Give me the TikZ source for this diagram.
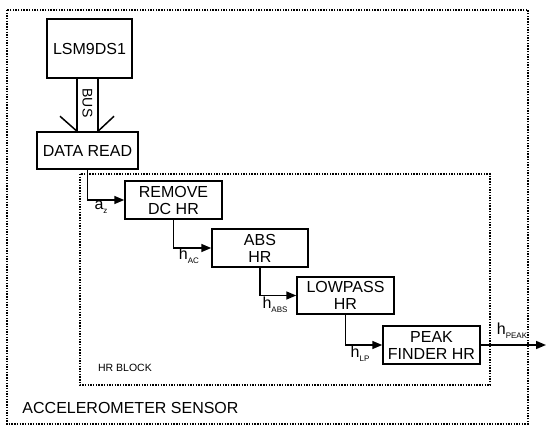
\documentclass[tikz,border=0pt]{standalone}
\usepackage{fontspec}
\setmainfont{Liberation Sans}
\usetikzlibrary{arrows.meta,calc}
\tikzset{
  blk/.style={draw, line width=1.5pt, align=center, inner sep=0pt,
    font=\fontsize{16}{17}\selectfont},
  conn/.style={line width=1.5pt, -{Triangle[length=10pt,width=8pt]}},
  plain/.style={line width=1.5pt},
  dotbox/.style={line width=1.4pt, dash pattern=on 1.4pt off 1.3pt},
  lbl/.style={inner sep=0pt, font=\fontsize{16}{18}\selectfont},
}
\newcommand{\sbs}[1]{\raisebox{-0.45ex}{\fontsize{8}{9}\selectfont #1}}
\begin{document}
\begin{tikzpicture}[x=1pt,y=-1pt]
\useasboundingbox (0,0) rectangle (550,433);
% frames
\draw[dotbox] (7,10) rectangle (528,424);
\draw[dotbox] (80,174) rectangle (490,385);
% blocks
\node[blk, minimum width=85pt, minimum height=59pt] (lsm) at (89.5,48.5) {LSM9DS1};
\node[blk, minimum width=101pt, minimum height=37pt] (dr) at (87.5,150.5) {DATA READ};
\node[blk, minimum width=97pt, minimum height=38pt] (rm) at (173.5,200) {REMOVE\\DC HR};
\node[blk, minimum width=96pt, minimum height=38pt] (abs) at (260,248) {ABS\\HR};
\node[blk, minimum width=97pt, minimum height=37pt] (lp) at (345.5,295.5) {LOWPASS\\HR};
\node[blk, minimum width=97pt, minimum height=38pt] (pk) at (431.5,345) {PEAK\\FINDER HR};
% bus
\coordinate (bl) at ([xshift=-10.5pt]dr.north);
\coordinate (br) at ([xshift=10.5pt]dr.north);
\draw[plain] (bl |- lsm.south) -- (bl);
\draw[plain] (br |- lsm.south) -- (br);
\draw[plain] ([shift={(-17,-15)}]bl) -- (bl);
\draw[plain] ([shift={(16,-15)}]br) -- (br);
\node[lbl, rotate=-90, font=\fontsize{14}{15}\selectfont] (bus) at (87.5,103) {BUS};
% connectors
\draw[conn] (dr.south) |- (rm.west);
\draw[conn] (rm.south) |- (abs.west);
\draw[conn] (abs.south) |- (lp.west);
\draw[conn] (lp.south) |- (pk.west);
\coordinate (out) at (546,345);
\draw[conn] (pk.east) -- (out);
% labels
\node[lbl] (laz) at (101,207) {a\sbs{z}};
\node[lbl] (lac) at (189,256) {h\sbs{AC}};
\node[lbl] (labs) at (275,305) {h\sbs{ABS}};
\node[lbl] (llp) at (360,354) {h\sbs{LP}};
\node[lbl] (lpk) at (512,331) {h\sbs{PEAK}};
\node[lbl, font=\fontsize{10.5}{12}\selectfont] (hrb) at (125,368) {HR BLOCK};
\node[lbl, font=\fontsize{16}{17}\selectfont] (acc) at (130.5,408) {ACCELEROMETER SENSOR};
\end{tikzpicture}
\end{document}
